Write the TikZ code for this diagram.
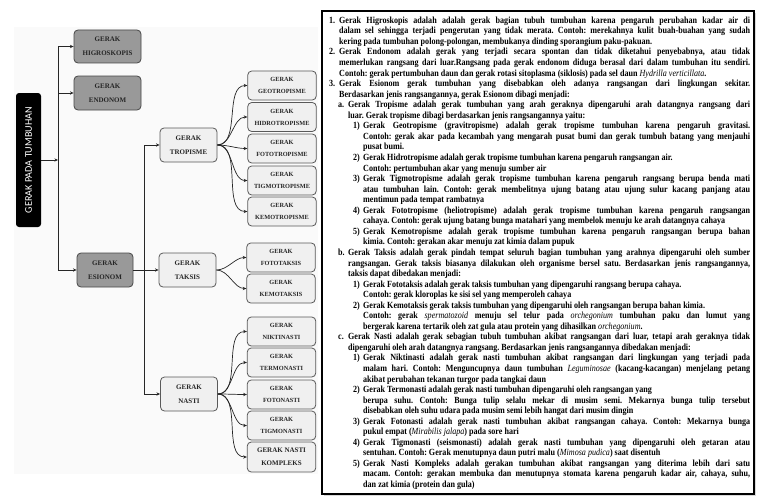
\documentclass[tikz,border=0pt]{standalone}
\usepackage{fontspec}
\setmainfont{Liberation Serif}[FakeStretch=0.86]
\newfontfamily\bxf{Liberation Serif}
\newfontfamily\sansf{Carlito}
\usetikzlibrary{arrows.meta}
\newcommand\li[3]{\par\leftskip=#1\relax\hangindent=#2\relax\hangafter=1\noindent\makebox[#2][l]{#3}}
\newcommand\ital[1]{\textmd{\textit{#1}}}
\tikzset{
  boxA/.style={draw=black!72, fill=black!40, rounded corners=4pt, line width=0.8pt,
    text=black!85, align=center, inner sep=0pt,
    font=\bxf\bfseries\fontsize{7}{14}\selectfont},
  boxB/.style={draw=black!65, fill=black!6, rounded corners=4pt, line width=0.8pt,
    text=black!85, align=center, inner sep=0pt,
    minimum width=57pt, minimum height=34pt,
    font=\bxf\bfseries\fontsize{7}{14}\selectfont},
  boxC/.style={draw=black!65, fill=black!6, rounded corners=4pt, line width=0.8pt,
    text=black!85, align=center, inner sep=0pt,
    minimum width=68.5pt, minimum height=29pt,
    font=\bxf\bfseries\fontsize{6.3}{12}\selectfont},
  conn/.style={line width=0.7pt, black!85},
  arr/.style={conn, -{Stealth[length=3.6pt,width=3.2pt]}},
  fan/.style={arr, out=0, in=180, looseness=0.9}
}
\begin{document}
\begin{tikzpicture}[x=1pt,y=-1pt]
\useasboundingbox (0,0) rectangle (768,503);
\fill[white] (0,0) rectangle (768,503);
\fill[black!2] (14,27) rectangle (318,474);

% root
\node[fill=black, rounded corners=3pt, rotate=90, minimum width=134pt, minimum height=25pt,
  inner sep=0pt, text=white, font=\sansf\fontsize{10.2}{12}\selectfont] (root) at (28.5,160) {GERAK PADA TUMBUHAN};

% level 1
\node[boxA, minimum width=67pt, minimum height=33pt] (higro) at (107.5,46.5) {GERAK\\HIGROSKOPIS};
\node[boxA, minimum width=67pt, minimum height=34pt] (endo) at (107.5,93) {GERAK\\ENDONOM};
\node[boxA, minimum width=56pt, minimum height=34pt] (esio) at (105,270) {GERAK\\ESIONOM};

% level 2
\node[boxB] (trop) at (188.5,145) {GERAK\\TROPISME};
\node[boxB] (taks) at (187.5,270) {GERAK\\TAKSIS};
\node[boxB] (nast) at (189,394) {GERAK\\NASTI};

% level 3
\node[boxC] (geo) at (282,85.5) {GERAK\\GEOTROPISME};
\node[boxC] (hid) at (282,117) {GERAK\\HIDROTROPISME};
\node[boxC] (fot) at (282,148.5) {GERAK\\FOTOTROPISME};
\node[boxC] (tig) at (282,180.5) {GERAK\\TIGMOTROPISME};
\node[boxC] (kem) at (282,211.5) {GERAK\\KEMOTROPISME};
\node[boxC] (ftk) at (281,257.5) {GERAK\\FOTOTAKSIS};
\node[boxC] (kmt) at (281,288.5) {GERAK\\KEMOTAKSIS};
\node[boxC] (nik) at (281.5,331.5) {GERAK\\NIKTINASTI};
\node[boxC] (ter) at (281.5,362.5) {GERAK\\TERMONASTI};
\node[boxC] (fon) at (281.5,394.5) {GERAK\\FOTONASTI};
\node[boxC] (tgn) at (281.5,425.5) {GERAK\\TIGMONASTI};
\node[boxC, minimum height=30pt, font=\bxf\bfseries\fontsize{7}{13}\selectfont] (kom) at (281.5,457) {GERAK NASTI\\KOMPLEKS};

% trunk 1
\coordinate (ta) at (58,46.5);
\coordinate (tb) at (58,270);
\draw[conn] (ta) -- (tb);
\draw[arr] (root.south) -- (root.south -| ta);
\draw[arr] (ta) -- (higro.west);
\draw[arr] (ta |- endo.west) -- (endo.west);
\draw[arr] (tb) -- (esio.west);

% trunk 2
\coordinate (sa) at (144,145);
\coordinate (sb) at (144,394);
\draw[conn] (sa) -- (sb);
\draw[arr] (esio.east) -- (taks.west);
\draw[arr] (sa) -- (trop.west);
\draw[arr] (sb) -- (nast.west);

% fans
\foreach \c in {geo,hid,fot,tig,kem} \draw[fan] (trop.east) to (\c.west);
\foreach \c in {ftk,kmt} \draw[fan] (taks.east) to (\c.west);
\foreach \c in {nik,ter,fon,tgn,kom} \draw[fan] (nast.east) to (\c.west);

% text box
\fill[black!15] (324,13) rectangle (756,496);
\draw[line width=1.6pt, fill=white] (322,11) rectangle (754,494);

\node[anchor=north west, inner sep=0pt, text width=421pt, align=justify,
  font=\fontsize{9.4}{10.55}\selectfont\bfseries] (body) at (329,12.6) {%
\frenchspacing\tolerance=10000 \hyphenpenalty=10000 \exhyphenpenalty=10000 \parskip=0pt
\li{0pt}{10pt}{1.}Gerak Higroskopis adalah adalah gerak bagian tubuh tumbuhan karena pengaruh perubahan kadar air di\linebreak dalam sel sehingga terjadi pengerutan yang tidak merata. Contoh: merekahnya kulit buah-buahan yang sudah\linebreak kering pada tumbuhan polong-polongan, membukanya dinding sporangium paku-pakuan.
\li{0pt}{10pt}{2.}Gerak Endonom adalah gerak yang terjadi secara spontan dan tidak diketahui penyebabnya, atau tidak\linebreak memerlukan rangsang dari luar.Rangsang pada gerak endonom diduga berasal dari dalam tumbuhan itu sendiri.\linebreak Contoh: gerak pertumbuhan daun dan gerak rotasi sitoplasma (siklosis) pada sel daun \ital{Hydrilla verticillata}.
\li{0pt}{10pt}{3.}Gerak Esionom gerak tumbuhan yang disebabkan oleh adanya rangsangan dari lingkungan sekitar.\linebreak Berdasarkan jenis rangsangannya, gerak Esionom dibagi menjadi:
\li{9pt}{10pt}{a.}Gerak Tropisme adalah gerak tumbuhan yang arah geraknya dipengaruhi arah datangnya rangsang dari\linebreak luar. Gerak tropisme dibagi berdasarkan jenis rangsangannya yaitu:
\li{24pt}{10pt}{1)}Gerak Geotropisme (gravitropisme) adalah gerak tropisme tumbuhan karena pengaruh gravitasi.\linebreak Contoh: gerak akar pada kecambah yang mengarah pusat bumi dan gerak tumbuh batang yang menjauhi\linebreak pusat bumi.
\li{24pt}{10pt}{2)}Gerak Hidrotropisme adalah gerak tropisme tumbuhan karena pengaruh rangsangan air.\newline Contoh: pertumbuhan akar yang menuju sumber air
\li{24pt}{10pt}{3)}Gerak Tigmotropisme adalah gerak tropisme tumbuhan karena pengaruh rangsang berupa benda mati\linebreak atau tumbuhan lain. Contoh: gerak membelitnya ujung batang atau ujung sulur kacang panjang atau\linebreak mentimun pada tempat rambatnya
\li{24pt}{10pt}{4)}Gerak Fototropisme (heliotropisme) adalah gerak tropisme tumbuhan karena pengaruh rangsangan\linebreak cahaya. Contoh: gerak ujung batang bunga matahari yang membelok menuju ke arah datangnya cahaya
\li{24pt}{10pt}{5)}Gerak Kemotropisme adalah gerak tropisme tumbuhan karena pengaruh rangsangan berupa bahan\linebreak kimia. Contoh: gerakan akar menuju zat kimia dalam pupuk
\li{9pt}{10pt}{b.}Gerak Taksis adalah gerak pindah tempat seluruh bagian tumbuhan yang arahnya dipengaruhi oleh sumber\linebreak rangsangan. Gerak taksis biasanya dilakukan oleh organisme bersel satu. Berdasarkan jenis rangsangannya,\linebreak taksis dapat dibedakan menjadi:
\li{24pt}{10pt}{1)}Gerak Fototaksis adalah gerak taksis tumbuhan yang dipengaruhi rangsang berupa cahaya.\newline Contoh: gerak kloroplas ke sisi sel yang memperoleh cahaya
\li{24pt}{10pt}{2)}Gerak Kemotaksis gerak taksis tumbuhan yang dipengaruhi oleh rangsangan berupa bahan kimia.\newline Contoh: gerak \ital{spermatozoid} menuju sel telur pada \ital{orchegonium} tumbuhan paku dan lumut yang\linebreak bergerak karena tertarik oleh zat gula atau protein yang dihasilkan \ital{orchegonium}.
\li{9pt}{10pt}{c.}Gerak Nasti adalah gerak sebagian tubuh tumbuhan akibat rangsangan dari luar, tetapi arah geraknya tidak\linebreak dipengaruhi oleh arah datangnya rangsang. Berdasarkan jenis rangsangannya dibedakan menjadi:
\li{24pt}{10pt}{1)}Gerak Niktinasti adalah gerak nasti tumbuhan akibat rangsangan dari lingkungan yang terjadi pada\linebreak malam hari. Contoh: Menguncupnya daun tumbuhan \ital{Leguminosae} (kacang-kacangan) menjelang petang\linebreak akibat perubahan tekanan turgor pada tangkai daun
\li{24pt}{10pt}{2)}Gerak Termonasti adalah gerak nasti tumbuhan dipengaruhi oleh rangsangan yang\newline berupa suhu. Contoh: Bunga tulip selalu mekar di musim semi. Mekarnya bunga tulip tersebut\linebreak disebabkan oleh suhu udara pada musim semi lebih hangat dari musim dingin
\li{24pt}{10pt}{3)}Gerak Fotonasti adalah gerak nasti tumbuhan akibat rangsangan cahaya. Contoh: Mekarnya bunga\linebreak pukul empat (\ital{Mirabilis jalapa}) pada sore hari
\li{24pt}{10pt}{4)}Gerak Tigmonasti (seismonasti) adalah gerak nasti tumbuhan yang dipengaruhi oleh getaran atau\linebreak sentuhan. Contoh: Gerak menutupnya daun putri malu (\ital{Mimosa pudica}) saat disentuh
\li{24pt}{10pt}{5)}Gerak Nasti Kompleks adalah gerakan tumbuhan akibat rangsangan yang diterima lebih dari satu\linebreak macam. Contoh: gerakan membuka dan menutupnya stomata karena pengaruh kadar air, cahaya, suhu,\linebreak dan zat kimia (protein dan gula)\par};
\end{tikzpicture}
\end{document}
